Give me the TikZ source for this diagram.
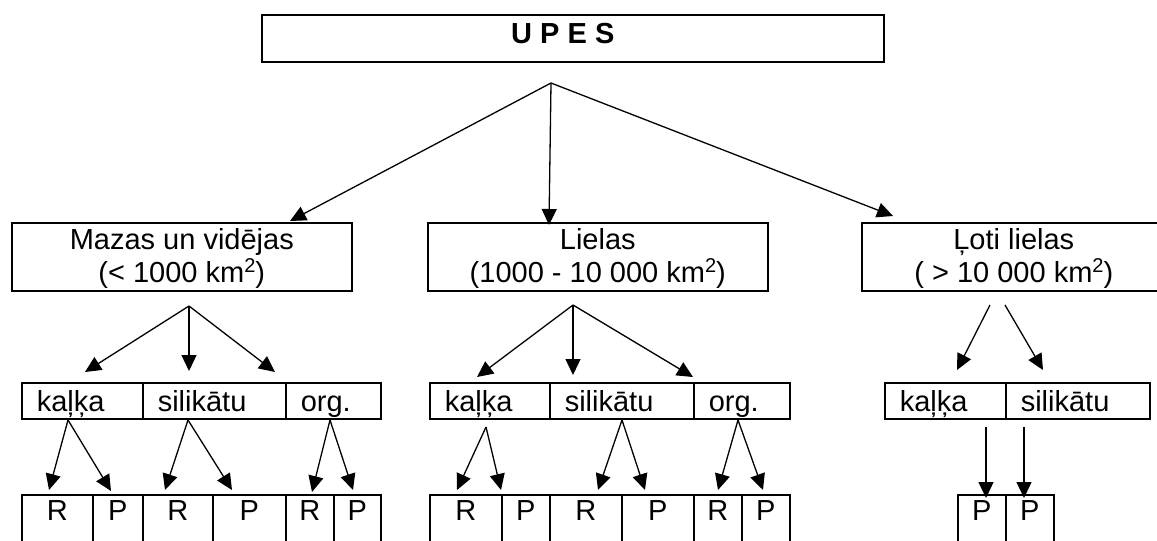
\documentclass[tikz,border=0pt]{standalone}
\usepackage{fontspec}
\setmainfont{Liberation Sans}
\usetikzlibrary{arrows.meta}
\newcommand\sqr{\raisebox{0.36em}{\fontsize{20}{20}\selectfont 2}}
\tikzset{
  box/.style={draw, line width=1.6pt, inner sep=0pt, anchor=north west},
  midbox/.style={box, align=center, text height=60pt, text depth=8pt, minimum height=68pt, minimum width=#1},
  cellL/.style={box, align=left, inner xsep=15pt, minimum height=36pt, text height=29pt, text depth=7pt, text width=#1},
  leaf/.style={box, minimum height=70pt, text height=26pt, text depth=44pt, minimum width=#1},
  arr/.style={-{Triangle[length=16pt,width=15pt]}, line width=1.3pt}
}
\begin{document}
\begin{tikzpicture}[x=1pt,y=-1pt,font=\fontsize{29}{33}\selectfont]
\clip (0,0) rectangle (1157,541);
\fill[white] (0,0) rectangle (1157,541);
% top
\node[box, minimum width=622pt, minimum height=47pt, text height=29pt, text depth=18pt] (upes) at (261,14) {\textbf{U P E S}\hspace*{20pt}};
% middle
\node[midbox=340pt] (m1) at (11,222) {Mazas un vidējas\\(< 1000 km\sqr)};
\node[midbox=340pt] (m2) at (427,222) {Lielas\\(1000 - 10 000 km\sqr)};
\node[midbox=304pt] (m3) at (861,222) {Ļoti lielas\\( > 10 000 km\sqr)};
% row 1 group A
\node[cellL=91pt] (a1) at (21,382) {kaļķa};
\node[cellL=113pt] (a2) at (142,382) {silikātu};
\node[cellL=65pt] (a3) at (285,382) {org.};
% row 1 group B
\node[cellL=90pt] (b1) at (429,382) {kaļķa};
\node[cellL=114pt] (b2) at (549,382) {silikātu};
\node[cellL=66pt] (b3) at (693,382) {org.};
% row 1 group C
\node[cellL=91pt] (c1) at (884,382) {kaļķa};
\node[cellL=114pt] (c2) at (1005,382) {silikātu};
% leaves A
\node[leaf=71pt] (a1r) at (21,494) {R};
\node[leaf=50pt] (a1p) at (92,494) {P};
\node[leaf=70pt] (a2r) at (142,494) {R};
\node[leaf=73pt] (a2p) at (212,494) {P};
\node[leaf=48pt] (a3r) at (285,494) {R};
\node[leaf=47pt] (a3p) at (333,494) {P};
% leaves B
\node[leaf=72pt] (b1r) at (429,494) {R};
\node[leaf=48pt] (b1p) at (501,494) {P};
\node[leaf=72pt] (b2r) at (549,494) {R};
\node[leaf=72pt] (b2p) at (621,494) {P};
\node[leaf=48pt] (b3r) at (693,494) {R};
\node[leaf=48pt] (b3p) at (741,494) {P};
% leaves C
\node[leaf=48pt] (c1p) at (957,494) {P};
\node[leaf=48pt] (c2p) at (1005,494) {P};
% arrow coordinates
\coordinate (oT) at (551,83);
\coordinate (tm1) at (290,221);
\coordinate (tm2) at (549,225);
\coordinate (tm3) at (893,216);
\coordinate (o1) at (189,306);
\coordinate (ta1) at (85,372);
\coordinate (ta2) at (189,371);
\coordinate (ta3) at (275,372);
\coordinate (o2) at (573,305);
\coordinate (tb1) at (477,377);
\coordinate (tb2) at (573,375);
\coordinate (tb3) at (693,377);
\coordinate (o3l) at (990,305);
\coordinate (o3r) at (1005,305);
\coordinate (tc1) at (957,370);
\coordinate (tc2) at (1043,370);
\coordinate (oa1) at (68,420);
\coordinate (oa2) at (188,420);
\coordinate (oa3) at (330,420);
\coordinate (la1r) at (49,490);
\coordinate (la1p) at (111,491);
\coordinate (la2r) at (165,490);
\coordinate (la2p) at (232,490);
\coordinate (la3r) at (312,492);
\coordinate (la3p) at (353,490);
\coordinate (ob1) at (486,427);
\coordinate (ob2) at (622,420);
\coordinate (ob3) at (738,420);
\coordinate (lb1r) at (457,490);
\coordinate (lb1p) at (501,490);
\coordinate (lb2r) at (598,490);
\coordinate (lb2p) at (645,490);
\coordinate (lb3r) at (718,490);
\coordinate (lb3p) at (763,490);
\coordinate (oc1) at (986,427);
\coordinate (oc2) at (1024,427);
\coordinate (lc1) at (986,498);
\coordinate (lc2) at (1024,498);
% arrows
\draw[arr] (oT) -- (tm1);
\draw[arr] (oT) -- (tm2);
\draw[arr] (oT) -- (tm3);
\draw[arr] (o1) -- (ta1);
\draw[arr] (o1) -- (ta2);
\draw[arr] (o1) -- (ta3);
\draw[arr] (o2) -- (tb1);
\draw[arr] (o2) -- (tb2);
\draw[arr] (o2) -- (tb3);
\draw[arr] (o3l) -- (tc1);
\draw[arr] (o3r) -- (tc2);
\draw[arr] (oa1) -- (la1r);
\draw[arr] (oa1) -- (la1p);
\draw[arr] (oa2) -- (la2r);
\draw[arr] (oa2) -- (la2p);
\draw[arr] (oa3) -- (la3r);
\draw[arr] (oa3) -- (la3p);
\draw[arr] (ob1) -- (lb1r);
\draw[arr] (ob1) -- (lb1p);
\draw[arr] (ob2) -- (lb2r);
\draw[arr] (ob2) -- (lb2p);
\draw[arr] (ob3) -- (lb3r);
\draw[arr] (ob3) -- (lb3p);
\draw[arr] (oc1) -- (lc1);
\draw[arr] (oc2) -- (lc2);
\end{tikzpicture}
\end{document}
